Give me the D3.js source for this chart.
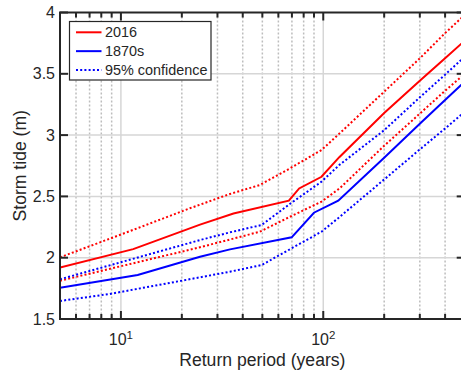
<!DOCTYPE html>
<html><head><meta charset="utf-8">
<script src="https://cdn.jsdelivr.net/npm/d3@7"></script>
<style>
html,body{margin:0;padding:0;background:#fff;overflow:hidden;}
text{font-family:"Liberation Sans",Arial,Helvetica,sans-serif;fill:#262626;}
</style></head>
<body>
<svg id="c" width="461" height="376"></svg>
<script>
// ---- data ----
const t2016 = [5, 11.5, 24.6, 36, 67.6, 76, 98, 120, 200, 300, 400, 500];
const v2016 = [1.92, 2.07, 2.27, 2.36, 2.465, 2.565, 2.66, 2.82, 3.18, 3.444, 3.627, 3.77];
const t2016Hi = [5, 10, 21.9, 34.6, 48.6, 68.5, 98, 120.6, 200, 300, 400, 500];
const v2016Hi = [2.003, 2.189, 2.403, 2.52, 2.593, 2.729, 2.878, 3.015, 3.354, 3.626, 3.832, 3.98];
const t2016Lo = [5, 24.6, 48.6, 68.5, 98, 120.6, 200, 300, 400, 500];
const v2016Lo = [1.812, 2.085, 2.212, 2.334, 2.457, 2.566, 2.913, 3.175, 3.362, 3.50];
const t1870 = [5, 12.1, 24.6, 34.6, 69.8, 89.9, 118.6, 200, 300, 400, 500];
const v1870 = [1.755, 1.859, 2.008, 2.068, 2.166, 2.367, 2.465, 2.816, 3.092, 3.286, 3.436];
const t1870Hi = [5, 24.6, 34.6, 49.6, 68.6, 98, 120, 200, 300, 400, 500];
const v1870Hi = [1.824, 2.144, 2.207, 2.267, 2.44, 2.62, 2.756, 3.04, 3.308, 3.493, 3.64];
const t1870Lo = [5, 8.8, 24.6, 34.6, 49.6, 69.8, 98, 120, 200, 300, 400, 500];
const v1870Lo = [1.647, 1.704, 1.84, 1.886, 1.94, 2.077, 2.212, 2.33, 2.638, 2.883, 3.054, 3.19];

const yTicks = [1.5, 2, 2.5, 3, 3.5, 4];
const yTickLabels = ["1.5", "2", "2.5", "3", "3.5", "4"];
const xMajor = [10, 100];
const xMajorExp = ["1", "2"];
const xMinor = [6, 7, 8, 9, 20, 30, 40, 50, 60, 70, 80, 90, 200, 300, 400];
const legendLabels = ["2016", "1870s", "95% confidence"];

// ---- layout ----
const L = 60, R = 464.7, T = 12.5, B = 319;
const x = d3.scaleLog().domain([5, 500]).range([L, R]);
const y = d3.scaleLinear().domain([1.5, 4]).range([B, T]);
const svg = d3.select("#c");
const ink = "#262626";

// grid
const g = svg.append("g");
g.selectAll(".mg").data(xMinor).join("line")
  .attr("x1", d => x(d)).attr("x2", d => x(d)).attr("y1", T).attr("y2", B)
  .attr("stroke", "#bdbdbd").attr("stroke-width", 1.5).attr("stroke-dasharray", "2,2");
g.selectAll(".Mg").data(xMajor).join("line")
  .attr("x1", d => x(d)).attr("x2", d => x(d)).attr("y1", T).attr("y2", B)
  .attr("stroke", "#d6d6d6").attr("stroke-width", 1.5);
g.selectAll(".yg").data(yTicks.slice(1, -1)).join("line")
  .attr("x1", L).attr("x2", R).attr("y1", d => y(d)).attr("y2", d => y(d))
  .attr("stroke", "#d6d6d6").attr("stroke-width", 1.5);

// series
const line = d3.line().x(d => x(d[0])).y(d => y(d[1]));
const zip = (a, b) => a.map((t, i) => [t, b[i]]);
const series = [
  {d: zip(t2016Hi, v2016Hi), c: "#ff0000", dash: true},
  {d: zip(t2016Lo, v2016Lo), c: "#ff0000", dash: true},
  {d: zip(t1870Hi, v1870Hi), c: "#0000ff", dash: true},
  {d: zip(t1870Lo, v1870Lo), c: "#0000ff", dash: true},
  {d: zip(t2016, v2016), c: "#ff0000", dash: false},
  {d: zip(t1870, v1870), c: "#0000ff", dash: false}
];
svg.append("defs").append("clipPath").attr("id", "clip")
  .append("rect").attr("x", L).attr("y", T).attr("width", R - L).attr("height", B - T);
svg.append("g").attr("clip-path", "url(#clip)")
  .selectAll("path").data(series).join("path")
  .attr("d", s => line(s.d)).attr("fill", "none")
  .attr("stroke", s => s.c).attr("stroke-width", 2)
  .attr("stroke-dasharray", s => s.dash ? "2,2.2" : null);

// axes box & ticks
const ax = svg.append("g").attr("stroke", ink);
ax.append("rect").attr("x", L).attr("y", T).attr("width", R - L).attr("height", B - T)
  .attr("fill", "none").attr("stroke-width", 2);
ax.selectAll(".ytl").data(yTicks).join("line")
  .attr("x1", L).attr("x2", L + 8).attr("y1", d => y(d)).attr("y2", d => y(d)).attr("stroke-width", 2);
ax.selectAll(".ytr").data(yTicks).join("line")
  .attr("x1", R).attr("x2", R - 8).attr("y1", d => y(d)).attr("y2", d => y(d)).attr("stroke-width", 2);
[[B, -1], [T, 1]].forEach(([yy, dir]) => {
  ax.selectAll(null).data(xMinor).join("line")
    .attr("x1", d => x(d)).attr("x2", d => x(d)).attr("y1", yy).attr("y2", yy + dir * 5).attr("stroke-width", 2);
  ax.selectAll(null).data(xMajor).join("line")
    .attr("x1", d => x(d)).attr("x2", d => x(d)).attr("y1", yy).attr("y2", yy + dir * 8).attr("stroke-width", 2);
});

// tick labels
svg.selectAll(".yl").data(yTicks).join("text")
  .attr("x", 55).attr("y", d => y(d)).attr("dy", "0.35em")
  .attr("text-anchor", "end").attr("font-size", 16)
  .text((d, i) => yTickLabels[i]);
const xl = svg.selectAll(".xl").data(xMajor).join("text")
  .attr("x", d => x(d)).attr("y", 345).attr("text-anchor", "middle").attr("font-size", 16);
xl.append("tspan").text("10");
xl.append("tspan").attr("font-size", 11.5).attr("dy", -6).text((d, i) => xMajorExp[i]);

// axis labels
svg.append("text").attr("x", (L + R) / 2).attr("y", 366).attr("text-anchor", "middle")
  .attr("font-size", 17.6).text("Return period (years)");
svg.append("text").attr("transform", `translate(26,${(T + B) / 2}) rotate(-90)`)
  .attr("text-anchor", "middle").attr("font-size", 17.6).text("Storm tide (m)");

// legend
const lg = svg.append("g");
lg.append("rect").attr("x", 69.5).attr("y", 21.5).attr("width", 141.5).attr("height", 58.5)
  .attr("fill", "#fff").attr("stroke", ink).attr("stroke-width", 1.2);
const legendItems = [
  {c: "#ff0000", dash: false}, {c: "#0000ff", dash: false}, {c: "#0000ff", dash: true}
];
const ly = d3.scalePoint().domain(legendLabels).range([32.3, 70]);
legendItems.forEach((it, i) => {
  const yy = ly(legendLabels[i]);
  lg.append("line").attr("x1", 76).attr("x2", 101.5).attr("y1", yy).attr("y2", yy)
    .attr("stroke", it.c).attr("stroke-width", 2).attr("stroke-dasharray", it.dash ? "2,2.2" : null);
  lg.append("text").attr("x", 105).attr("y", yy).attr("dy", "0.36em").attr("font-size", 14.4)
    .text(legendLabels[i]);
});
</script>
</body></html>
